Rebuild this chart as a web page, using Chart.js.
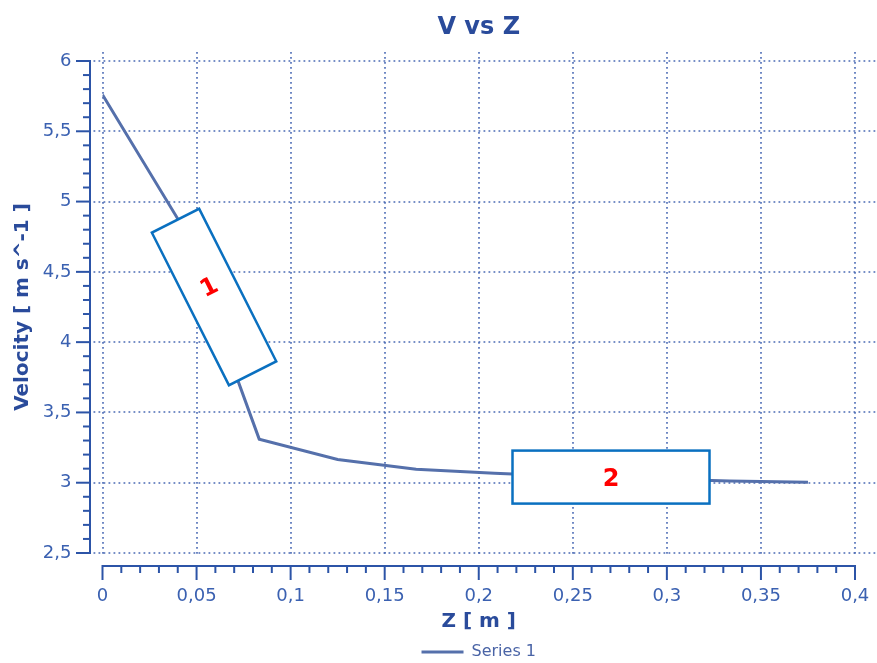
<!DOCTYPE html>
<html><head><meta charset="utf-8">
<script src="https://cdn.jsdelivr.net/npm/chart.js@4.4.0/dist/chart.umd.min.js"></script>
<style>html,body{margin:0;padding:0;background:#fff}canvas{display:block}</style>
</head><body>
<canvas id="c" width="877" height="663"></canvas>
<script>
// ---- data ----
const zValues = [0, 0.0417, 0.0833, 0.125, 0.1667, 0.2083, 0.25, 0.2917, 0.3333, 0.375];
const velocityValues = [5.76, 4.84, 3.31, 3.165, 3.095, 3.068, 3.045, 3.028, 3.012, 3.003];
const xTickValues = [0, 0.05, 0.1, 0.15, 0.2, 0.25, 0.3, 0.35, 0.4];
const xTickLabels = ['0', '0,05', '0,1', '0,15', '0,2', '0,25', '0,3', '0,35', '0,4'];
const yTickValues = [2.5, 3, 3.5, 4, 4.5, 5, 5.5, 6];
const yTickLabels = ['2,5', '3', '3,5', '4', '4,5', '5', '5,5', '6'];
const seriesName = 'Series 1';
const chartTitle = 'V vs Z';
const xTitle = 'Z [ m ]';
const yTitle = 'Velocity [ m s^-1 ]';
const calloutLabels = ['1', '2'];
const calloutZ = [0.0593, 0.2703];
const calloutV = [4.321, 3.04];

// ---- styles ----
const FONT = "'DejaVu Sans', Verdana, sans-serif";
const AXIS = '#2c54a7';
const GRID = '#4a6ab4';
const LINE = '#5570ab';
const TICKTXT = '#3b61b1';
const TITLE = '#2a4b9b';
const BOXC = '#0a70c0';
const calloutStyle = [
  { w: 53, h: 171, angle: -26.8, dy: -10 },
  { w: 197, h: 53, angle: 0, dy: 3 }
];

const decor = {
  id: 'decor',
  beforeDatasetsDraw(chart) {
    const { ctx } = chart;
    const x = chart.scales.x, y = chart.scales.y;
    const yTop = y.getPixelForValue(yTickValues[yTickValues.length - 1]);
    const yBot = y.getPixelForValue(yTickValues[0]);
    const xL = x.getPixelForValue(xTickValues[0]);
    const xR = x.getPixelForValue(xTickValues[xTickValues.length - 1]);
    ctx.save();
    // dotted grid
    ctx.strokeStyle = GRID;
    ctx.lineWidth = 1.6;
    ctx.setLineDash([1.8, 3.2]);
    xTickValues.forEach(v => {
      const px = Math.round(x.getPixelForValue(v));
      ctx.beginPath(); ctx.moveTo(px, yTop - 9); ctx.lineTo(px, yBot + 3); ctx.stroke();
    });
    yTickValues.forEach(v => {
      const py = Math.round(y.getPixelForValue(v));
      ctx.beginPath(); ctx.moveTo(xL - 9, py); ctx.lineTo(chart.width - 1, py); ctx.stroke();
    });
    ctx.setLineDash([]);
    // y axis
    ctx.strokeStyle = AXIS;
    ctx.lineWidth = 2;
    const ax = xL - 12.5;
    ctx.beginPath(); ctx.moveTo(ax, yTop); ctx.lineTo(ax, yBot); ctx.stroke();
    for (let i = 0; i < yTickValues.length; i++) {
      const py = y.getPixelForValue(yTickValues[i]);
      ctx.beginPath(); ctx.moveTo(ax + 1, py); ctx.lineTo(ax - 14, py); ctx.stroke();
      if (i < yTickValues.length - 1) {
        const step = (yTickValues[i + 1] - yTickValues[i]) / 5;
        for (let k = 1; k < 5; k++) {
          const pm = y.getPixelForValue(yTickValues[i] + step * k);
          ctx.beginPath(); ctx.moveTo(ax + 1, pm); ctx.lineTo(ax - 7, pm); ctx.stroke();
        }
      }
    }
    // x axis
    const ay = yBot + 13;
    ctx.beginPath(); ctx.moveTo(xL, ay); ctx.lineTo(xR, ay); ctx.stroke();
    for (let i = 0; i < xTickValues.length; i++) {
      const px = x.getPixelForValue(xTickValues[i]);
      ctx.beginPath(); ctx.moveTo(px, ay - 1); ctx.lineTo(px, ay + 14); ctx.stroke();
      if (i < xTickValues.length - 1) {
        const step = (xTickValues[i + 1] - xTickValues[i]) / 5;
        for (let k = 1; k < 5; k++) {
          const pm = x.getPixelForValue(xTickValues[i] + step * k);
          ctx.beginPath(); ctx.moveTo(pm, ay - 1); ctx.lineTo(pm, ay + 7); ctx.stroke();
        }
      }
    }
    ctx.restore();
  },
  afterDatasetsDraw(chart) {
    const { ctx } = chart;
    const x = chart.scales.x, y = chart.scales.y;
    ctx.save();
    calloutLabels.forEach((lab, i) => {
      const st = calloutStyle[i];
      const cx = x.getPixelForValue(calloutZ[i]);
      const cy = y.getPixelForValue(calloutV[i]);
      ctx.save();
      ctx.translate(cx, cy);
      ctx.rotate(st.angle * Math.PI / 180);
      ctx.fillStyle = '#ffffff';
      ctx.fillRect(-st.w / 2, -st.h / 2, st.w, st.h);
      ctx.strokeStyle = BOXC;
      ctx.lineWidth = 2.5;
      ctx.strokeRect(-st.w / 2, -st.h / 2, st.w, st.h);
      ctx.fillStyle = '#ff0000';
      ctx.font = 'bold 24px ' + FONT;
      ctx.textAlign = 'center';
      ctx.textBaseline = 'middle';
      ctx.fillText(lab, 0, st.dy);
      ctx.restore();
    });
    ctx.restore();
  }
};

new Chart(document.getElementById('c'), {
  type: 'line',
  data: {
    datasets: [{
      label: seriesName,
      data: zValues.map((z, i) => ({ x: z, y: velocityValues[i] })),
      borderColor: LINE,
      backgroundColor: LINE,
      borderWidth: 3,
      pointRadius: 0,
      tension: 0,
      fill: false
    }]
  },
  options: {
    responsive: false,
    animation: false,
    layout: { padding: { left: 0, right: 22, top: 0, bottom: -7 } },
    plugins: {
      title: {
        display: true, text: chartTitle, fullSize: false, color: TITLE,
        font: { family: FONT, size: 24, weight: 'bold' },
        padding: { top: 13.6, bottom: 18.6 }
      },
      legend: {
        display: true, position: 'bottom', fullSize: false,
        labels: {
          color: '#4a64a6', font: { family: FONT, size: 16 },
          boxWidth: 42, boxHeight: 3, padding: 3,
          generateLabels(chart) {
            const items = Chart.defaults.plugins.legend.labels.generateLabels(chart);
            items.forEach(it => { it.lineWidth = 0; it.fillStyle = LINE; it.strokeStyle = LINE; });
            return items;
          }
        }
      },
      tooltip: { enabled: false }
    },
    scales: {
      x: {
        type: 'linear', min: 0, max: 0.4,
        grid: { display: false, drawTicks: true, tickLength: 33 },
        border: { display: false },
        afterBuildTicks(s) { s.ticks = xTickValues.map(v => ({ value: v })); },
        afterFit(s) { s.height = 88; },
        ticks: {
          padding: 0, color: TICKTXT, maxRotation: 0, autoSkip: false,
          font: { family: FONT, size: 18 },
          callback: (v, i) => xTickLabels[i]
        },
        title: {
          display: true, text: xTitle, color: TITLE,
          font: { family: FONT, size: 20, weight: 'bold' },
          padding: { top: 0, bottom: 7 }
        }
      },
      y: {
        type: 'linear', min: 2.5, max: 6,
        grid: { display: false, drawTicks: true, tickLength: 31 },
        border: { display: false },
        afterBuildTicks(s) { s.ticks = yTickValues.map(v => ({ value: v })); },
        afterFit(s) { s.width = 102.5; },
        ticks: {
          padding: 0, color: TICKTXT, autoSkip: false,
          font: { family: FONT, size: 18 },
          callback: (v, i) => yTickLabels[i]
        },
        title: {
          display: true, text: yTitle, color: TITLE,
          font: { family: FONT, size: 20, weight: 'bold' },
          padding: { top: 11, bottom: 0 }
        }
      }
    }
  },
  plugins: [decor]
});
</script>
</body></html>
